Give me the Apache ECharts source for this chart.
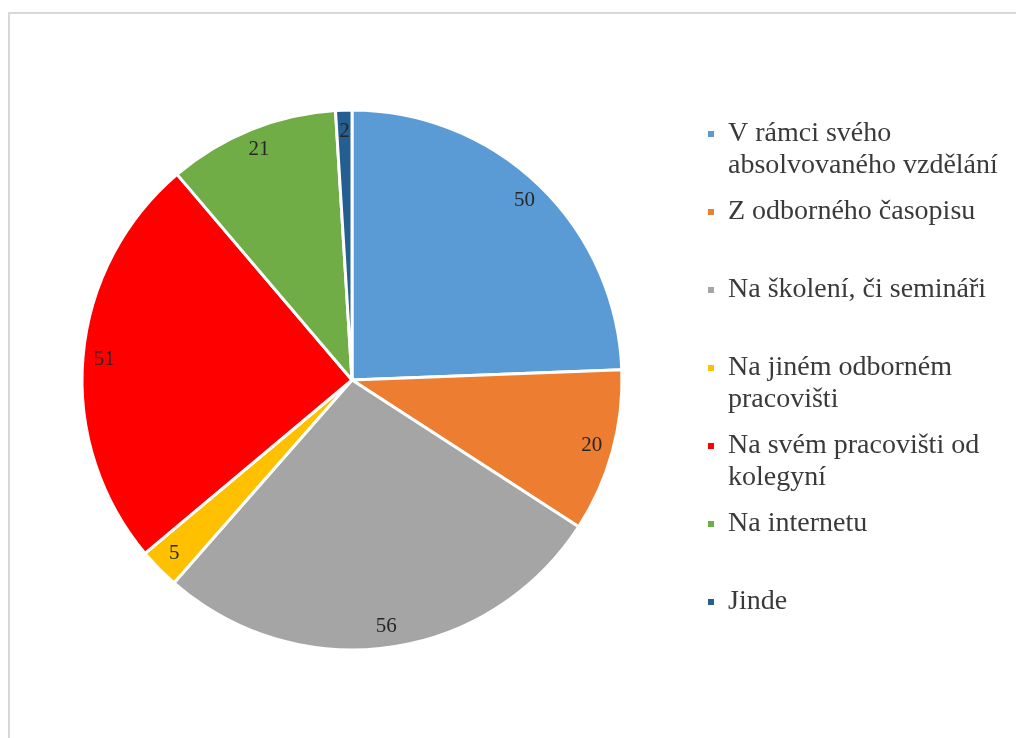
<!DOCTYPE html>
<html>
<head>
<meta charset="utf-8">
<script src="https://cdn.jsdelivr.net/npm/echarts@6/dist/echarts.min.js"></script>
<style>
  html, body { margin: 0; padding: 0; background: #ffffff; }
  #chart { width: 1016px; height: 738px; }
</style>
</head>
<body>
<div id="chart"></div>
<script>
// Where respondents learned about the topic (counts per source)
const categories = [
  'V rámci svého absolvovaného vzdělání',
  'Z odborného časopisu',
  'Na školení, či semináři',
  'Na jiném odborném pracovišti',
  'Na svém pracovišti od kolegyní',
  'Na internetu',
  'Jinde'
];
const values = [50, 20, 56, 5, 51, 21, 2];
const colors = ['#5B9BD5', '#ED7D31', '#A5A5A5', '#FFC000', '#FF0000', '#70AD47', '#255E91'];
// Legend text, wrapped the way it appears beside the pie
const legendLabels = [
  'V rámci svého\nabsolvovaného vzdělání',
  'Z odborného časopisu',
  'Na školení, či semináři',
  'Na jiném odborném\npracovišti',
  'Na svém pracovišti od\nkolegyní',
  'Na internetu',
  'Jinde'
];

const FONT = '"Liberation Serif", "Times New Roman", serif';
const LINE = 32;
const CX = 352, CY = 380, R = 270;

const pieData = categories.map((name, i) => ({
  name: name,
  value: values[i],
  itemStyle: { color: colors[i] }
}));

const chart = echarts.init(document.getElementById('chart'), null, { renderer: 'canvas' });

chart.setOption({
  backgroundColor: '#ffffff',
  animation: false,
  graphic: [{
    type: 'rect',
    shape: { x: 9, y: 13, width: 1030, height: 760 },
    style: { fill: 'none', stroke: '#d8d8d8', lineWidth: 2 },
    silent: true
  }],
  legend: {
    orient: 'vertical',
    left: 706,
    top: 86,
    padding: 0,
    itemGap: 78 - 3 * LINE,
    itemWidth: 8,
    itemHeight: 8,
    icon: 'rect',
    selectedMode: false,
    data: categories,
    formatter: function (name) {
      const label = legendLabels[categories.indexOf(name)];
      // three-line block (blank first line) keeps the square level with the first text line
      const lines = label.split('\n');
      if (lines.length < 2) lines.push('\u00a0');
      return '\u00a0\n' + lines.join('\n');
    },
    textStyle: {
      fontFamily: FONT,
      fontSize: 28,
      lineHeight: LINE,
      color: '#3a3a3a',
      padding: [0, 0, 0, 8]
    }
  },
  series: [
    {
      type: 'pie',
      center: [CX, CY],
      radius: [0, R],
      startAngle: 90,
      clockwise: true,
      silent: true,
      data: pieData,
      label: { show: false },
      labelLine: { show: false },
      itemStyle: { borderColor: '#ffffff', borderWidth: 3 }
    },
    {
      // transparent outer ring that carries the value labels near the rim
      type: 'pie',
      center: [CX, CY],
      radius: [R * 0.82, R],
      startAngle: 90,
      clockwise: true,
      silent: true,
      data: pieData.map(d => ({ name: d.name, value: d.value })),
      itemStyle: { color: 'rgba(0,0,0,0)' },
      label: {
        show: true,
        position: 'inside',
        formatter: '{c}',
        fontFamily: FONT,
        fontSize: 21,
        color: '#262626'
      },
      labelLine: { show: false }
    }
  ]
});
</script>
</body>
</html>
